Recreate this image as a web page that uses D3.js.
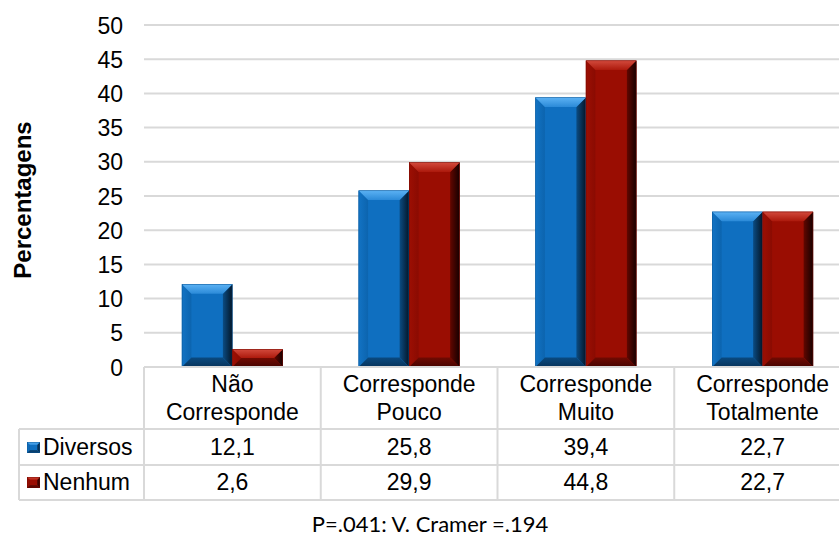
<!DOCTYPE html>
<html>
<head>
<meta charset="utf-8">
<script src="https://cdn.jsdelivr.net/npm/d3@7/dist/d3.min.js"></script>
<style>
  html, body { margin: 0; padding: 0; background: #ffffff; }
  svg { display: block; }
  text { font-family: "Liberation Sans", Arial, sans-serif; fill: #000; }
</style>
</head>
<body>
<script>
// Category labels (two lines each), series and values
const categories = [
  ["Não", "Corresponde"],
  ["Corresponde", "Pouco"],
  ["Corresponde", "Muito"],
  ["Corresponde", "Totalmente"]
];
const seriesNames = ["Diversos", "Nenhum"];
const diversos = [12.1, 25.8, 39.4, 22.7];
const nenhum = [2.6, 29.9, 44.8, 22.7];
const yTicks = [0, 5, 10, 15, 20, 25, 30, 35, 40, 45, 50];
const yTitle = "Percentagens";
const footnote = "P=.041: V. Cramer =.194";

const W = 839, H = 540;
const plotLeft = 144, plotRight = 851, plotTop = 25, plotBottom = 367;
const headerBottom = 429, row1Bottom = 465, row2Bottom = 500, tableLeft = 19;
const gridColor = "#d9d9d9";
const fontSize = 23;

const svg = d3.select("body").append("svg")
  .attr("width", W).attr("height", H);

const catKeys = categories.map((c, i) => i);
const values = { Diversos: diversos, Nenhum: nenhum };

const x0 = d3.scaleBand().domain(catKeys).range([plotLeft, plotRight]).padding(0);
const x1 = d3.scaleBand().domain(seriesNames).range([0, x0.bandwidth()])
  .paddingInner(0).paddingOuter(0.75);
const y = d3.scaleLinear().domain([0, 50]).range([plotBottom, plotTop]);

const palettes = {
  Diversos: {
    face: "#0f6fc0", line: "#0b5796",
    top: ["#5cb2f4", "#2b8ad8"], left: ["#1273c4", "#0c64ae"],
    right: ["#0b4c83", "#031628"], bottom: ["#0a4a80", "#07345c"]
  },
  Nenhum: {
    face: "#9a0d02", line: "#760800",
    top: ["#d24a3c", "#ac190c"], left: ["#9d0f03", "#8a0b02"],
    right: ["#620700", "#160000"], bottom: ["#700a02", "#480400"]
  }
};

const defs = svg.append("defs");
function grad(id, stops, x2, y2) {
  const g = defs.append("linearGradient").attr("id", id)
    .attr("x1", 0).attr("y1", 0).attr("x2", x2).attr("y2", y2);
  g.append("stop").attr("offset", 0).attr("stop-color", stops[0]);
  g.append("stop").attr("offset", 1).attr("stop-color", stops[1]);
}
seriesNames.forEach(s => {
  const p = palettes[s];
  grad(s + "-top", p.top, 0, 1);
  grad(s + "-left", p.left, 1, 0);
  grad(s + "-right", p.right, 1, 0);
  grad(s + "-bottom", p.bottom, 0, 1);
});

// Draws a bar with an angled bevel: light top face, dark right/bottom faces
function bevelBar(g, s, bx, by, bw, bh, size) {
  const p = palettes[s];
  const b = Math.min(size, bh / 2, bw / 2);
  const xa = bx, xb = bx + bw, ya = by, yb = by + bh;
  g.append("rect").attr("x", xa).attr("y", ya).attr("width", bw).attr("height", bh)
    .attr("fill", p.face);
  const poly = (pts, fill) => g.append("polygon")
    .attr("points", pts.map(d => d.join(",")).join(" ")).attr("fill", fill);
  poly([[xa, ya], [xa + b, ya + b], [xa + b, yb - b], [xa, yb]], `url(#${s}-left)`);
  poly([[xb, ya], [xb, yb], [xb - b, yb - b], [xb - b, ya + b]], `url(#${s}-right)`);
  poly([[xa, yb], [xb, yb], [xb - b, yb - b], [xa + b, yb - b]], `url(#${s}-bottom)`);
  poly([[xa, ya], [xb, ya], [xb - b, ya + b], [xa + b, ya + b]], `url(#${s}-top)`);
  g.append("rect").attr("x", xa + 0.25).attr("y", ya + 0.25)
    .attr("width", bw - 0.5).attr("height", bh - 0.5)
    .attr("fill", "none").attr("stroke", p.line).attr("stroke-width", 0.5);
}

// Y tick labels from the y scale
const yAxis = d3.axisLeft(y).tickValues(yTicks).tickSize(0).tickPadding(0)
  .tickFormat(d3.format("d"));
const yAxisG = svg.append("g").attr("transform", `translate(${plotLeft - 21},0)`).call(yAxis);
yAxisG.select(".domain").remove();
yAxisG.selectAll("text")
  .attr("font-family", "'Liberation Sans', Arial, sans-serif")
  .attr("font-size", fontSize).attr("fill", "#000").attr("dy", "0.35em");

// Horizontal gridlines
svg.append("g").selectAll("line")
  .data(yTicks.filter(t => t > 0))
  .join("line")
  .attr("x1", plotLeft).attr("x2", plotRight)
  .attr("y1", d => y(d)).attr("y2", d => y(d))
  .attr("stroke", gridColor).attr("stroke-width", 2);

// Bars
const barsG = svg.append("g");
catKeys.forEach(i => {
  seriesNames.forEach(s => {
    const v = values[s][i];
    const bx = x0(i) + x1(s);
    bevelBar(barsG, s, bx, y(v), x1.bandwidth(), y(0) - y(v), 9.5);
  });
});

// Data table under the plot
const tbl = svg.append("g").attr("stroke", gridColor).attr("stroke-width", 2);
tbl.append("line").attr("x1", plotLeft).attr("x2", plotRight)
  .attr("y1", plotBottom).attr("y2", plotBottom);
[headerBottom, row1Bottom, row2Bottom].forEach(yy =>
  tbl.append("line").attr("x1", tableLeft).attr("x2", plotRight).attr("y1", yy).attr("y2", yy));
tbl.append("line").attr("x1", tableLeft).attr("x2", tableLeft)
  .attr("y1", headerBottom).attr("y2", row2Bottom);
d3.range(catKeys.length + 1).forEach(k => {
  const xx = plotLeft + k * x0.step();
  tbl.append("line").attr("x1", xx).attr("x2", xx)
    .attr("y1", plotBottom).attr("y2", row2Bottom);
});

// Category headers
const head = svg.append("g").attr("font-size", fontSize).attr("text-anchor", "middle");
categories.forEach((lines, i) => {
  const cx = x0(i) + x0.bandwidth() / 2;
  lines.forEach((t, j) => head.append("text")
    .attr("x", cx).attr("y", 392 + j * 28).text(t));
});

// Value rows
const fmt = d3.formatLocale({ decimal: ",", thousands: ".", grouping: [3], currency: ["", ""] })
  .format(".1f");
const rowBase = { Diversos: 455, Nenhum: 490 };
const rows = svg.append("g").attr("font-size", fontSize);
seriesNames.forEach(s => {
  catKeys.forEach(i => rows.append("text")
    .attr("x", x0(i) + x0.bandwidth() / 2).attr("y", rowBase[s])
    .attr("text-anchor", "middle").text(fmt(values[s][i])));
  bevelBar(rows, s, 27, rowBase[s] - 13, 13, 11, 3);
  rows.append("text").attr("x", 43).attr("y", rowBase[s]).text(s);
});

// Axis title
svg.append("text")
  .attr("transform", "translate(31,200) rotate(-90)")
  .attr("text-anchor", "middle")
  .attr("font-weight", "bold").attr("font-size", 24)
  .text(yTitle);

// Footnote
svg.append("text")
  .attr("x", 430).attr("y", 532)
  .attr("text-anchor", "middle")
  .style("font-family", "Lato, 'Open Sans', sans-serif")
  .attr("font-size", 22)
  .text(footnote);
</script>
</body>
</html>
